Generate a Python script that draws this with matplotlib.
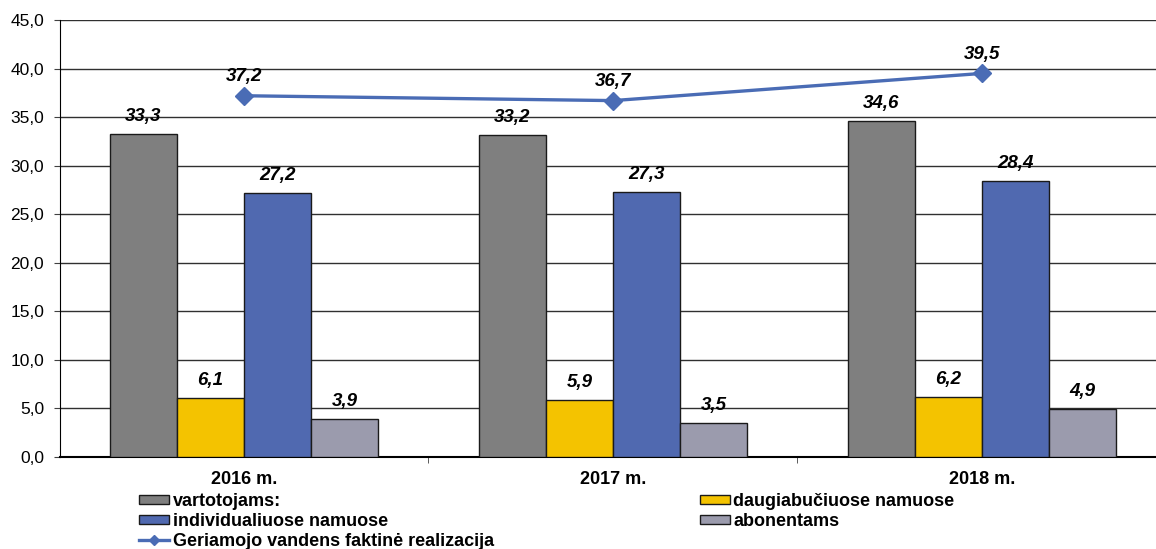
import numpy as np
import matplotlib
matplotlib.use("Agg")
import matplotlib.pyplot as plt
from matplotlib.lines import Line2D
from matplotlib.patches import Patch

plt.rcParams['font.family'] = ['Liberation Sans', 'DejaVu Sans']

# data
years = ["2016 m.", "2017 m.", "2018 m."]
vartotojams = [33.3, 33.2, 34.6]
daugiabuciuose = [6.1, 5.9, 6.2]
individualiuose = [27.2, 27.3, 28.4]
abonentams = [3.9, 3.5, 4.9]
realizacija = [37.2, 36.7, 39.5]

series_names = ["vartotojams:", "daugiabučiuose namuose",
                "individualiuose namuose", "abonentams"]
line_name = "Geriamojo vandens faktinė realizacija"
colors = ["#7f7f7f", "#f4c300", "#5069b0", "#9b9bad"]
line_color = "#4a6cb5"

def fmt(v):
    return f"{v:.1f}".replace(".", ",")

fig = plt.figure(figsize=(11.56, 5.49), dpi=100)
# axes extends a bit past the right edge like in the original
ax = fig.add_axes([59.5 / 1156, 92 / 549, 1107 / 1156, 437 / 549])

x = np.arange(len(years))
w = 67 / 369
all_series = [vartotojams, daugiabuciuose, individualiuose, abonentams]
for i, vals in enumerate(all_series):
    xs = x + (i - 1.5) * w
    ax.bar(xs, vals, width=w, color=colors[i], edgecolor="#1a1a1a",
           linewidth=1, zorder=3)
    for xi, v in zip(xs, vals):
        ax.annotate(fmt(v), (xi, v), xytext=(0, 6.5), textcoords="offset points",
                    ha="center", va="bottom", fontsize=13.5,
                    fontweight="bold", fontstyle="italic", zorder=5)

ax.plot(x, realizacija, color=line_color, linewidth=2.4, marker="D",
        markersize=9.5, zorder=4)
for xi, v in zip(x, realizacija):
    ax.annotate(fmt(v), (xi, v), xytext=(0, 7.5), textcoords="offset points",
                ha="center", va="bottom", fontsize=13.5,
                fontweight="bold", fontstyle="italic", zorder=5)

ax.set_xlim(-0.5, 2.5)
ax.set_ylim(0, 45)
ax.set_yticks(np.arange(0, 46, 5))
ax.set_yticklabels([fmt(v) for v in np.arange(0, 46, 5)], fontsize=12.5)
ax.yaxis.grid(True, color="#303030", linewidth=1)
ax.set_axisbelow(True)

ax.set_xticks(x)
ax.set_xticklabels(years, fontsize=13, fontweight="bold")
ax.set_xticks([0.5, 1.5], minor=True)
ax.tick_params(axis="x", which="major", length=0, pad=10)
ax.tick_params(axis="x", which="minor", length=4, color="#404040")
ax.tick_params(axis="y", length=4, color="#404040", pad=7)

for s in ["top", "right"]:
    ax.spines[s].set_visible(False)
ax.spines["left"].set_color("black")
ax.spines["bottom"].set_color("black")
ax.spines["bottom"].set_linewidth(1.5)

# legend, filled column by column -> reorder to look row-major
h = [Patch(facecolor=c, edgecolor="#1a1a1a") for c in colors]
hl = Line2D([0], [0], color=line_color, linewidth=2.4, marker="D", markersize=5)
handles = [h[0], h[2], hl, h[1], h[3]]
labels = [series_names[0], series_names[2], line_name,
          series_names[1], series_names[3]]
fig.legend(handles, labels, loc="upper left",
           bbox_to_anchor=(139 / 1156, 1 - 493 / 549), ncol=2,
           frameon=False, prop={"weight": "bold", "size": 13},
           handlelength=1.65, handleheight=0.45, handletextpad=0.22,
           labelspacing=0.16, columnspacing=11.4, borderpad=0, borderaxespad=0)

fig.savefig("out.png", dpi=100)
